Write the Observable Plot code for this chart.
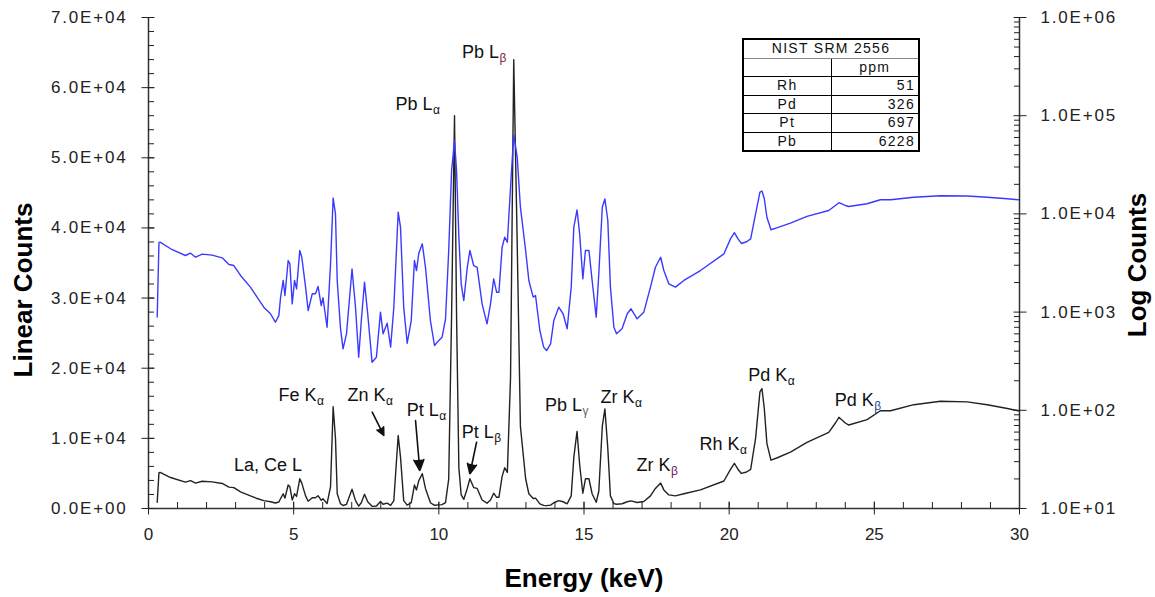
<!DOCTYPE html>
<html><head><meta charset="utf-8">
<script src="https://cdn.jsdelivr.net/npm/d3@7"></script>
<script src="https://cdn.jsdelivr.net/npm/@observablehq/plot@0.6"></script>
<style>
body{margin:0;background:#fff;font-family:"Liberation Sans",Arial,sans-serif;}
#wrap{position:relative;width:1155px;height:597px;background:#fff;}
#wrap svg{position:absolute;left:0;top:0;}
#wrap svg g[aria-label="y-axis tick label"] text{letter-spacing:1.8px;}
#tbl{position:absolute;left:742px;top:38px;border-collapse:collapse;table-layout:fixed;width:178px;background:#fff;border:2px solid #000;font-size:14px;color:#111;letter-spacing:1.3px;}
#tbl td{padding:0 3px;height:17.5px;line-height:17.5px;border:1px solid #000;white-space:nowrap;}
</style></head><body><div id="wrap"></div>
<script>
// spectrum: energy (keV) and counts
const energy = [0.30,0.36,0.40,0.76,1.27,1.45,1.62,1.85,2.19,2.54,2.77,2.94,3.17,3.51,3.74,3.97,4.20,4.37,4.49,4.55,4.64,4.70,4.81,4.87,4.95,5.03,5.10,5.21,5.28,5.41,5.50,5.64,5.75,5.84,5.95,6.01,6.15,6.27,6.36,6.44,6.50,6.61,6.70,6.82,7.01,7.13,7.24,7.33,7.44,7.55,7.70,7.85,7.99,8.08,8.22,8.34,8.45,8.60,8.68,8.79,8.91,9.05,9.16,9.23,9.31,9.43,9.54,9.71,9.85,10.00,10.11,10.23,10.34,10.44,10.54,10.61,10.69,10.77,10.86,10.98,11.07,11.20,11.32,11.49,11.66,11.78,11.89,11.99,12.07,12.18,12.27,12.36,12.47,12.58,12.70,12.81,12.99,13.10,13.25,13.33,13.48,13.61,13.71,13.85,13.96,14.13,14.28,14.42,14.56,14.65,14.76,14.85,14.96,15.05,15.17,15.28,15.42,15.51,15.63,15.72,15.82,15.91,16.03,16.12,16.31,16.49,16.62,16.83,17.06,17.29,17.46,17.64,17.75,17.92,18.15,18.44,19.01,19.82,20.05,20.18,20.30,20.42,20.60,20.74,20.91,21.06,21.13,21.21,21.30,21.44,21.64,22.11,22.68,23.43,23.66,23.78,24.00,24.12,24.75,25.21,25.56,26.36,27.28,28.20,28.89,29.58,30.00];
const counts = [890,5100,5150,4415,3770,3980,3620,3890,3800,3570,3050,2980,2360,1795,1420,1122,962,789,922,1420,2100,1476,3350,3100,1213,2100,1726,4240,3620,1795,1037,1535,1535,1824,1167,1400,702,3100,14500,10000,2100,700,423,601,2750,1122,347,820,2020,962,309,347,998,601,770,440,1122,10400,7330,1122,482,820,3350,2650,3980,4960,2860,820,457,515,554,850,4200,27700,56000,27700,5800,1940,1312,2860,4240,2980,2860,1213,760,1213,2180,1595,1595,4580,5800,5150,18700,64000,37700,11700,4240,2100,1420,1476,650,440,406,475,820,1122,962,676,1795,7330,11000,6270,2180,4240,4240,2100,887,2455,11700,14200,8570,1795,700,601,676,962,1081,855,998,1795,2860,3620,2650,1940,1795,2100,2650,3920,5600,6450,5600,5000,5200,5570,10000,16630,17100,14260,9250,6890,7200,8040,9420,10840,12190,13000,12190,11900,12680,13940,13940,14800,15300,15200,14800,14260,13900];

// axis ticks
const linTicks = [0,10000,20000,30000,40000,50000,60000,70000];
const linMinor = d3.range(0, 70001, 2000);
const logTicks = [10,100,1000,10000,100000,1000000];
const logMinor = logTicks.slice(0,-1).flatMap(p => [2,3,4,5,6,7,8,9].map(k => k*p));
const xTicks = [0,5,10,15,20,25,30];
const xMinor = d3.range(0, 31, 1);

// peak annotations
const peakLabels = ["Pb L","Pb L","Fe K","Zn K","Pt L","La, Ce L","Pt L","Pb L","Zr K","Zr K","Rh K","Pd K","Pd K"];
const peakSubs   = ["α","β","α","α","α","","β","γ","α","β","α","α","β"];
const labelEnergy = [9.78,12.07,5.79,8.16,10.0,5.29,11.89,14.93,16.74,17.98,20.36,22.0,24.98];
const labelCounts = [57600,65070,16110,16110,13970,6130,10880,14690,15870,6130,9230,18970,15500];

// arrows
const arrowFromE = [7.705, 9.197, 11.30];
const arrowFromC = [13730, 12550, 9450];
const arrowToE   = [8.105, 9.345, 11.07];
const arrowToC   = [10410, 5420, 4950];

// table
const tableTitle = "NIST SRM 2556";
const tableUnit = "ppm";
const elements = ["Rh","Pd","Pt","Pb"];
const ppm = [51,326,697,6228];

const data = energy.map((e, i) => ({e, c: counts[i]}));
const sci = d => { const [m, ex] = d.toExponential(1).split("e"); return m + "E" + ex[0] + ex.slice(1).padStart(2, "0"); };
const font = "'Liberation Sans', Arial, sans-serif";
const common = {width: 1155, height: 597, marginTop: 17, marginRight: 136, marginBottom: 89, marginLeft: 148,
  style: {background: "transparent", fontFamily: font, fontSize: "17px", color: "#222", overflow: "visible"}};
const li = d3.range(peakLabels.length);
const ai = d3.range(arrowFromE.length);
const subColor = {"Pb Lβ": "#7a2535", "Zr Kβ": "#6a2060", "Pd Kβ": "#2a4a9a", "Pb Lγ": "#666"};

const p1 = Plot.plot({...common,
  x: {domain: [0, 30]}, y: {domain: [0, 70000]},
  marks: [
    Plot.line(data, {x: "e", y: "c", stroke: "#222", strokeWidth: 1.4}),
    Plot.ruleX([0], {stroke: "#333", strokeWidth: 1.5}),
    Plot.ruleY([0], {stroke: "#333", strokeWidth: 1.5}),
    Plot.axisY({ticks: linMinor, tickSize: 6, dx: 6, tickFormat: () => "", label: null}),
    Plot.axisY({ticks: linTicks, tickSize: 13, dx: 6.5, tickFormat: () => "", label: null}),
    Plot.axisY({ticks: linTicks, tickSize: 0, tickPadding: 21, tickFormat: sci, label: null}),
    Plot.axisX({ticks: xMinor, tickSize: 6, dy: -6, tickFormat: () => "", label: null}),
    Plot.axisX({ticks: xTicks, tickSize: 13, dy: -6.5, tickFormat: () => "", label: null}),
    Plot.axisX({ticks: xTicks, tickSize: 0, tickPadding: 19, tickFormat: d => String(d), label: null}),
    Plot.text(li, {x: i => labelEnergy[i], y: i => labelCounts[i], text: i => peakLabels[i], textAnchor: "end", fontSize: 18, fill: "#111"}),
    Plot.text(li, {x: i => labelEnergy[i], y: i => labelCounts[i], text: i => peakSubs[i], textAnchor: "start", fontSize: 12, dy: 6, dx: 0.5,
      fill: i => subColor[peakLabels[i] + peakSubs[i]] || "#111"}),
    Plot.arrow(ai, {x1: i => arrowFromE[i], y1: i => arrowFromC[i], x2: i => arrowToE[i], y2: i => arrowToC[i], stroke: "#111", fill: "#111", strokeWidth: 1.6, headLength: 11, headAngle: 50}),
    Plot.text(["Linear Counts"], {text: d => d, frameAnchor: "left", textAnchor: "middle", lineAnchor: "middle", rotate: -90, dx: -125, dy: 27, fontSize: 26, fontWeight: "bold", fill: "#000"}),
    Plot.text(["Energy (keV)"], {text: d => d, frameAnchor: "bottom", textAnchor: "middle", lineAnchor: "middle", dy: 70, fontSize: 26, fontWeight: "bold", fill: "#000"})
  ]
});

const p2 = Plot.plot({...common,
  x: {domain: [0, 30], axis: null}, y: {type: "log", domain: [10, 1e6]},
  marks: [
    Plot.line(data, {x: "e", y: "c", stroke: "#3a3aff", strokeWidth: 1.4}),
    Plot.ruleX([30], {stroke: "#333", strokeWidth: 1.5}),
    Plot.axisY({anchor: "right", ticks: logMinor, tickSize: 6, dx: -6, tickFormat: () => "", label: null}),
    Plot.axisY({anchor: "right", ticks: logTicks, tickSize: 13, dx: -6.5, tickFormat: () => "", label: null}),
    Plot.axisY({anchor: "right", ticks: logTicks, tickSize: 0, tickPadding: 21, tickFormat: sci, label: null}),
    Plot.text(["Log Counts"], {text: d => d, frameAnchor: "right", textAnchor: "middle", lineAnchor: "middle", rotate: -90, dx: 118, dy: 2, fontSize: 26, fontWeight: "bold", fill: "#000"})
  ]
});

const wrap = document.getElementById("wrap");
wrap.appendChild(p1);
wrap.appendChild(p2);

const tbl = document.createElement("table");
tbl.id = "tbl";
let html = `<colgroup><col style="width:88px"><col style="width:88px"></colgroup>`;
html += `<tr><td colspan="2" style="text-align:center;border-bottom:1px solid #888">${tableTitle}</td></tr>`;
html += `<tr><td></td><td style="text-align:center">${tableUnit}</td></tr>`;
elements.forEach((el, i) => { html += `<tr><td style="text-align:center">${el}</td><td style="text-align:right">${ppm[i]}</td></tr>`; });
tbl.innerHTML = html;
wrap.appendChild(tbl);
</script>
</body></html>
